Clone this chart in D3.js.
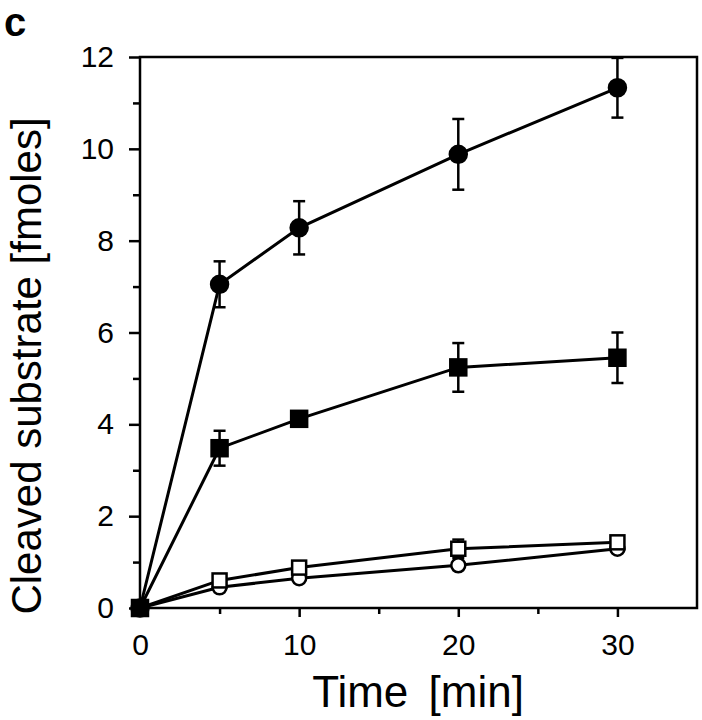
<!DOCTYPE html>
<html><head><meta charset="utf-8">
<script src="https://cdn.jsdelivr.net/npm/d3@7"></script>
<style>body{margin:0;background:#fff}svg{display:block}text{font-family:"Liberation Sans",Arial,sans-serif}</style>
</head><body>
<svg id="chart" width="702" height="720"></svg>
<script>
const times = [0, 5, 10, 20, 30];
const filledCircle = [0, 7.05, 8.28, 9.88, 11.33];
const filledCircleErr = [0, 0.5, 0.58, 0.77, 0.65];
const filledSquare = [0, 3.48, 4.12, 5.24, 5.45];
const filledSquareErr = [0, 0.38, 0.08, 0.53, 0.55];
const openSquare = [0, 0.6, 0.88, 1.29, 1.43];
const openSquareErr = [0, 0.05, 0.12, 0.2, 0.05];
const openCircle = [0, 0.45, 0.65, 0.93, 1.29];
const openCircleErr = [0, 0, 0, 0, 0];
const xTicks = [0, 10, 20, 30];
const xMinor = [5, 15, 25];
const yTicks = [0, 2, 4, 6, 8, 10, 12];
const yMinor = [1, 3, 5, 7, 9, 11];

const svg = d3.select("#chart");
const L = 140, R = 697, T = 57, B = 608;
const x = d3.scaleLinear().domain([0, 35]).range([L, R]);
const y = d3.scaleLinear().domain([0, 12]).range([B, T]);

// frame
svg.append("rect").attr("x", L).attr("y", T).attr("width", R - L).attr("height", B - T)
  .attr("fill", "none").attr("stroke", "#000").attr("stroke-width", 2.5);

// y axis
const yAx = svg.append("g").attr("transform", `translate(${L},0)`)
  .call(d3.axisLeft(y).tickValues(yTicks).tickSize(11).tickPadding(15).tickFormat(d3.format("d")));
yAx.select(".domain").remove();
yAx.selectAll("line").attr("stroke-width", 2.5);
yAx.selectAll("text").attr("font-size", 30).attr("fill", "#000").attr("font-family", "Liberation Sans, Arial, sans-serif");
const yAxM = svg.append("g").attr("transform", `translate(${L},0)`)
  .call(d3.axisLeft(y).tickValues(yMinor).tickSize(7).tickFormat(""));
yAxM.select(".domain").remove();
yAxM.selectAll("line").attr("stroke-width", 2.5);

// x axis
const xAx = svg.append("g").attr("transform", `translate(0,${B})`)
  .call(d3.axisBottom(x).tickValues(xTicks).tickSize(9).tickPadding(17).tickFormat(d3.format("d")));
xAx.select(".domain").remove();
xAx.selectAll("line").attr("stroke-width", 2.5);
xAx.selectAll("text").attr("font-size", 30).attr("fill", "#000").attr("font-family", "Liberation Sans, Arial, sans-serif");
const xAxM = svg.append("g").attr("transform", `translate(0,${B})`)
  .call(d3.axisBottom(x).tickValues(xMinor).tickSize(6).tickFormat(""));
xAxM.select(".domain").remove();
xAxM.selectAll("line").attr("stroke-width", 2.5);

const line = d3.line().x(d => x(d[0])).y(d => y(d[1]));
svg.append("clipPath").attr("id", "clip").append("rect")
  .attr("x", L - 20).attr("y", T).attr("width", R - L + 20).attr("height", B - T + 20);

const series = [
  {v: openCircle, e: openCircleErr, shape: "circle", fill: "#fff", r: 7},
  {v: openSquare, e: openSquareErr, shape: "square", fill: "#fff", r: 7},
  {v: filledSquare, e: filledSquareErr, shape: "square", fill: "#000", r: 8},
  {v: filledCircle, e: filledCircleErr, shape: "circle", fill: "#000", r: 8.5}
];

const g = svg.append("g").attr("clip-path", "url(#clip)");
series.forEach(s => {
  const pts = times.map((t, i) => [t, s.v[i], s.e[i]]);
  pts.filter(p => p[2] > 0).forEach(p => {
    const xs = x(p[0]);
    g.append("line").attr("x1", xs).attr("x2", xs).attr("y1", y(p[1] - p[2])).attr("y2", y(p[1] + p[2]))
      .attr("stroke", "#000").attr("stroke-width", 2.5);
    [p[1] - p[2], p[1] + p[2]].forEach(v => {
      if (v < 12) g.append("line").attr("x1", xs - 6).attr("x2", xs + 6).attr("y1", y(v)).attr("y2", y(v))
        .attr("stroke", "#000").attr("stroke-width", 2.5);
    });
  });
  g.append("path").datum(pts).attr("d", line).attr("fill", "none").attr("stroke", "#000").attr("stroke-width", 3);
});
series.forEach(s => {
  const pts = times.map((t, i) => [t, s.v[i]]);
  pts.forEach(p => {
    if (s.shape === "circle") {
      g.append("circle").attr("cx", x(p[0])).attr("cy", y(p[1])).attr("r", s.r)
        .attr("fill", s.fill).attr("stroke", "#000").attr("stroke-width", 2.5);
    } else {
      g.append("rect").attr("x", x(p[0]) - s.r).attr("y", y(p[1]) - s.r).attr("width", 2 * s.r).attr("height", 2 * s.r)
        .attr("fill", s.fill).attr("stroke", "#000").attr("stroke-width", 2.5);
    }
  });
});

// labels
svg.append("text").attr("x", 418).attr("y", 707).attr("text-anchor", "middle")
  .attr("font-size", 44).attr("word-spacing", 8).text("Time [min]");
svg.append("text").attr("transform", "translate(41,366) rotate(-90)").attr("text-anchor", "middle")
  .attr("font-size", 42).text("Cleaved substrate [fmoles]");
svg.append("text").attr("x", 4).attr("y", 36).attr("font-size", 40).attr("font-weight", "bold").text("c");
</script>
</body></html>
